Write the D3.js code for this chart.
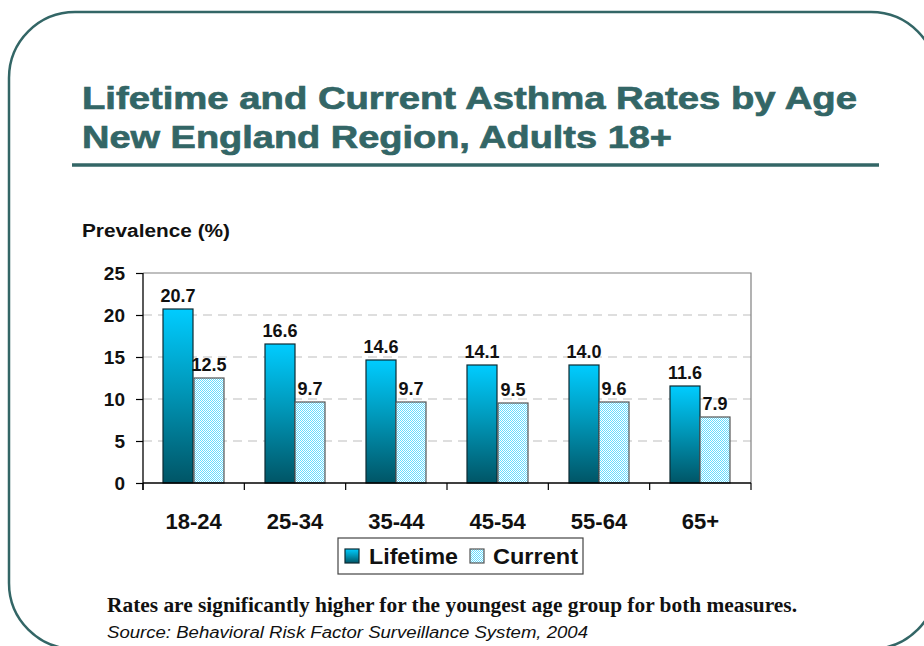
<!DOCTYPE html>
<html>
<head>
<meta charset="utf-8">
<script src="https://cdn.jsdelivr.net/npm/d3@7"></script>
<style>
  body { margin: 0; background: #fff; }
  svg { display: block; font-family: "Liberation Sans", Arial, sans-serif; }
</style>
</head>
<body>
<svg id="chart"></svg>
<script>
const ageGroups = ['18-24', '25-34', '35-44', '45-54', '55-64', '65+'];
const lifetime = [20.7, 16.6, 14.6, 14.1, 14.0, 11.6];
const current = [12.5, 9.7, 9.7, 9.5, 9.6, 7.9];
const seriesNames = ['Lifetime', 'Current'];
const yTicks = [0, 5, 10, 15, 20, 25];

const width = 924, height = 646;
const teal = '#336666';

const svg = d3.select('#chart').attr('width', width).attr('height', height);
const defs = svg.append('defs');

// gradient for lifetime bars
const grad = defs.append('linearGradient')
  .attr('id', 'lifeGrad').attr('x1', 0).attr('y1', 0).attr('x2', 0).attr('y2', 1);
grad.append('stop').attr('offset', '0%').attr('stop-color', '#00ccff');
grad.append('stop').attr('offset', '45%').attr('stop-color', '#0099bb');
grad.append('stop').attr('offset', '100%').attr('stop-color', '#005566');

// fine checker for current bars
const pat = defs.append('pattern')
  .attr('id', 'curPat').attr('width', 2).attr('height', 2)
  .attr('patternUnits', 'userSpaceOnUse');
pat.append('rect').attr('width', 2).attr('height', 2).attr('fill', '#ffffff');
pat.append('rect').attr('width', 1).attr('height', 1).attr('fill', '#66dcff');
pat.append('rect').attr('x', 1).attr('y', 1).attr('width', 1).attr('height', 1).attr('fill', '#66dcff');

const fills = ['url(#lifeGrad)', 'url(#curPat)'];
const strokes = ['#0d2a33', '#555'];

// slide frame
svg.append('rect')
  .attr('x', 9).attr('y', 12).attr('width', 928).attr('height', 637)
  .attr('rx', 66).attr('ry', 66)
  .attr('fill', 'none').attr('stroke', teal).attr('stroke-width', 2.5);

// title
svg.append('text').attr('x', 82).attr('y', 109)
  .attr('font-size', 32).attr('font-weight', 'bold').attr('fill', teal)
  .attr('stroke', teal).attr('stroke-width', 0.7)
  .attr('textLength', 775).attr('lengthAdjust', 'spacingAndGlyphs')
  .text('Lifetime and Current Asthma Rates by Age');
svg.append('text').attr('x', 82).attr('y', 148)
  .attr('font-size', 32).attr('font-weight', 'bold').attr('fill', teal)
  .attr('stroke', teal).attr('stroke-width', 0.7)
  .attr('textLength', 590).attr('lengthAdjust', 'spacingAndGlyphs')
  .text('New England Region, Adults 18+');
svg.append('line')
  .attr('x1', 72).attr('x2', 879).attr('y1', 165).attr('y2', 165)
  .attr('stroke', teal).attr('stroke-width', 3.5);

// scales
const x0 = d3.scaleBand().domain(ageGroups).range([143, 751])
  .paddingInner(0.4).paddingOuter(0.2);
const x1 = d3.scaleBand().domain(seriesNames).range([0, x0.bandwidth()]);
const y = d3.scaleLinear().domain([0, 25]).range([483, 273]);
const plotLeft = 143, plotRight = 751;
const step = x0.step();

svg.append('text').attr('x', 82).attr('y', 237)
  .attr('font-size', 18).attr('font-weight', 'bold').attr('fill', '#111')
  .attr('textLength', 148).attr('lengthAdjust', 'spacingAndGlyphs')
  .text('Prevalence (%)');

// gridlines
svg.append('g').selectAll('line')
  .data(yTicks.filter(t => t > 0 && t < 25))
  .enter().append('line')
  .attr('x1', plotLeft).attr('x2', plotRight)
  .attr('y1', d => y(d)).attr('y2', d => y(d))
  .attr('stroke', '#bdbdbd').attr('stroke-width', 1.2)
  .attr('stroke-dasharray', '9,6');

// plot frame (top & right)
svg.append('path')
  .attr('d', `M${plotLeft},${y(25)}H${plotRight}V${y(0)}`)
  .attr('fill', 'none').attr('stroke', '#808080').attr('stroke-width', 1.2);

// bars (absolute positions so the checker pattern stays on the pixel grid)
const bars = [];
ageGroups.forEach((g, i) => {
  [lifetime[i], current[i]].forEach((v, k) => bars.push({ g, v, k }));
});
const barX = d => Math.round(x0(d.g) + x1(seriesNames[d.k]));
const barW = Math.round(x1.bandwidth());

svg.append('g').selectAll('rect')
  .data(bars).enter().append('rect')
  .attr('x', barX)
  .attr('y', d => Math.round(y(d.v)))
  .attr('width', barW)
  .attr('height', d => Math.round(y(0)) - Math.round(y(d.v)))
  .attr('fill', d => fills[d.k])
  .attr('stroke', d => strokes[d.k]).attr('stroke-width', 1.2);

svg.append('g').selectAll('text')
  .data(bars).enter().append('text')
  .attr('x', d => barX(d) + barW / 2)
  .attr('y', d => y(d.v) - 7)
  .attr('text-anchor', 'middle')
  .attr('font-size', 18).attr('font-weight', 'bold').attr('fill', '#111')
  .text(d => d3.format('.1f')(d.v));

// y axis
const yAxis = svg.append('g')
  .attr('transform', `translate(${plotLeft},0)`)
  .call(d3.axisLeft(y).tickValues(yTicks).tickSize(7).tickPadding(11).tickSizeOuter(0));
yAxis.select('.domain').attr('d', `M0,${y(25)}V${y(0) + 7}`).attr('stroke', '#000').attr('stroke-width', 1.3);
yAxis.selectAll('.tick line').attr('stroke', '#000').attr('stroke-width', 1.2);
yAxis.selectAll('.tick text')
  .attr('font-size', 19).attr('font-weight', 'bold').attr('fill', '#111')
  .attr('font-family', '"Liberation Sans", Arial, sans-serif');

// x axis
svg.append('line')
  .attr('x1', plotLeft).attr('x2', plotRight).attr('y1', y(0)).attr('y2', y(0))
  .attr('stroke', '#000').attr('stroke-width', 1.3);
svg.append('g').selectAll('line')
  .data(d3.range(ageGroups.length + 1))
  .enter().append('line')
  .attr('x1', i => plotLeft + i * step).attr('x2', i => plotLeft + i * step)
  .attr('y1', y(0)).attr('y2', y(0) + 7)
  .attr('stroke', '#000').attr('stroke-width', 1.2);
svg.append('g').selectAll('text')
  .data(ageGroups).enter().append('text')
  .attr('x', d => x0(d) + x0.bandwidth() / 2)
  .attr('y', 529)
  .attr('text-anchor', 'middle')
  .attr('font-size', 22).attr('font-weight', 'bold').attr('fill', '#111')
  .text(d => d);

// legend
const legend = svg.append('g');
legend.append('rect')
  .attr('x', 338).attr('y', 538).attr('width', 245).attr('height', 36)
  .attr('fill', '#fff').attr('stroke', '#444').attr('stroke-width', 1.2);
const legendItems = [
  { name: seriesNames[0], sx: 345, tx: 369, tw: 89 },
  { name: seriesNames[1], sx: 470, tx: 493, tw: 85 }
];
legendItems.forEach((it, k) => {
  legend.append('rect')
    .attr('x', it.sx).attr('y', 549).attr('width', 14).attr('height', 14)
    .attr('fill', fills[k]).attr('stroke', strokes[k]).attr('stroke-width', 1.2);
  legend.append('text')
    .attr('x', it.tx).attr('y', 564)
    .attr('font-size', 22).attr('font-weight', 'bold').attr('fill', '#111')
    .attr('textLength', it.tw).attr('lengthAdjust', 'spacingAndGlyphs')
    .text(it.name);
});

// notes
svg.append('text').attr('x', 107).attr('y', 612)
  .attr('font-family', '"Liberation Serif", "Times New Roman", serif')
  .attr('font-size', 20).attr('font-weight', 'bold').attr('fill', '#111')
  .attr('textLength', 690).attr('lengthAdjust', 'spacingAndGlyphs')
  .text('Rates are significantly higher for the youngest age group for both measures.');
svg.append('text').attr('x', 107).attr('y', 638)
  .attr('font-size', 16).attr('font-style', 'italic').attr('fill', '#111')
  .attr('textLength', 481).attr('lengthAdjust', 'spacingAndGlyphs')
  .text('Source: Behavioral Risk Factor Surveillance System, 2004');
</script>
</body>
</html>
